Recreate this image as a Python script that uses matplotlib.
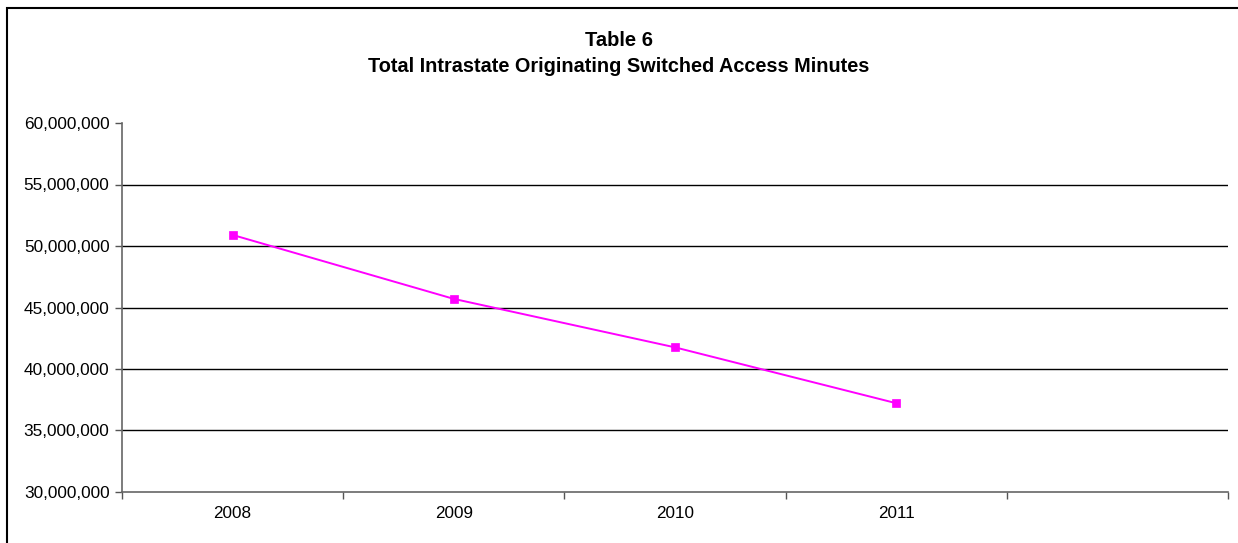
import matplotlib
matplotlib.use("Agg")
import matplotlib.pyplot as plt
from matplotlib.ticker import FuncFormatter, FixedLocator
from matplotlib.patches import Rectangle

years = ["2008", "2009", "2010", "2011"]
minutes = [50900000, 45700000, 41760000, 37220000]
n_slots = 5
y_ticks = [30000000, 35000000, 40000000, 45000000, 50000000, 55000000, 60000000]

plt.rcParams['font.family'] = ['Liberation Sans', 'DejaVu Sans']

W, H = 1238, 543
fig = plt.figure(figsize=(W / 100, H / 100), dpi=100)
fig.patch.set_facecolor('white')

# chart border
fig.patches.append(Rectangle((7 / W, -0.1), 2, (H - 8) / H + 0.1, transform=fig.transFigure,
                             fill=False, edgecolor='black', linewidth=1.5))

ax = fig.add_axes([122 / W, (H - 492) / H, (1228 - 122) / W, (492 - 123) / H])
xs = [i + 0.5 for i in range(len(years))]
ax.plot(xs, minutes, color='#FF00FF', linewidth=1.4, marker='s', markersize=6,
        markerfacecolor='#FF00FF', markeredgecolor='#FF00FF', markeredgewidth=0.5, zorder=3)

ax.set_xlim(0, n_slots)
ax.set_ylim(y_ticks[0], y_ticks[-1])
ax.set_yticks(y_ticks)
ax.yaxis.set_major_formatter(FuncFormatter(lambda v, p: f"{int(v):,}"))
ax.xaxis.set_major_locator(FixedLocator(list(range(n_slots + 1))))
ax.xaxis.set_minor_locator(FixedLocator(xs))
ax.set_xticklabels([])
ax.set_xticklabels(years, minor=True)
ax.tick_params(axis='x', which='minor', length=0, pad=10, labelsize=12.3)
ax.tick_params(axis='x', which='major', length=5, width=1, color='#555555', direction='out')
ax.tick_params(axis='y', length=5, width=1, color='#555555', direction='out', labelsize=12.4, pad=4)

for v in y_ticks[1:-1]:
    ax.axhline(v, color='black', linewidth=1, zorder=1)

for s in ['top', 'right']:
    ax.spines[s].set_visible(False)
for s in ['left', 'bottom']:
    ax.spines[s].set_color('#666666')
    ax.spines[s].set_linewidth(1.2)

fig.text(0.5, 1 - 41 / H, "Table 6", ha='center', va='center', fontsize=14.5, fontweight='bold')
fig.text(0.5, 1 - 66 / H, "Total Intrastate Originating Switched Access Minutes", ha='center',
         va='center', fontsize=14.3, fontweight='bold')

fig.savefig("out.png", dpi=100, facecolor='white')
